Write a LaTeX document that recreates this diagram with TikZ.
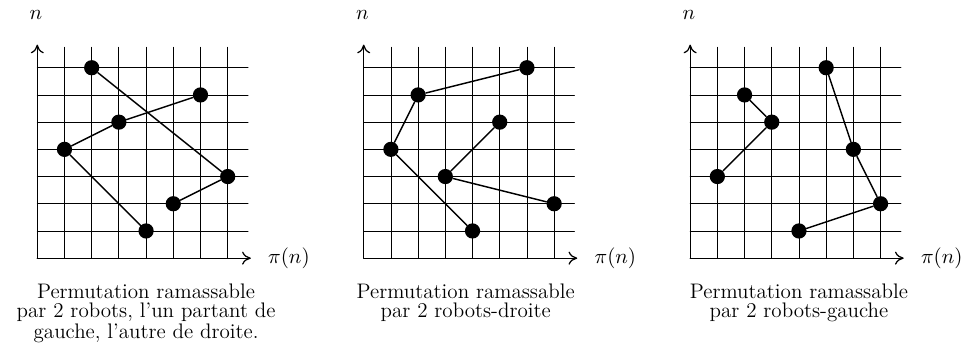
\documentclass[tikz,border=0pt]{standalone}
\usetikzlibrary{calc,arrows.meta}
\tikzset{
  grid length/.store in=\GridLen,
  panel gap/.store in=\PanelGap,
  grid length=7.75,
  panel gap=12,
  dot/.style={circle, fill=black, inner sep=0pt, minimum size=2.8mm},
  path line/.style={line width=0.75pt},
  grid line/.style={line width=0.4pt},
  axis line/.style={-{To[length=1.6mm,width=2.4mm]}, line width=0.65pt},
  axis label/.style={font=\fontsize{11}{13}\selectfont},
  caption/.style={align=center, inner sep=0pt, anchor=north,
    font=\fontsize{11}{9.7}\selectfont}
}

\begin{document}
\begin{tikzpicture}[x=0.5cm, y=0.5cm, line cap=round, line join=round]

  % Fix the frame to the proportions of the figure
  \useasboundingbox (-1.37,-3.27) rectangle (34.03,9.49);

  % Grid, axes and axis labels of the three panels
  \foreach \p in {0,1,2} {
    \begin{scope}[shift={(\p*\PanelGap,0)}]
      \foreach \k in {1,...,7} {
        \draw[grid line] (\k,0) -- (\k,\GridLen);
        \draw[grid line] (0,\k) -- (\GridLen,\k);
      }
      \coordinate (O\p) at (0,0);
      \coordinate (X\p) at (7.85,0);
      \coordinate (Y\p) at (0,7.85);
      \draw[axis line] (O\p) -- (X\p);
      \draw[axis line] (O\p) -- (Y\p);
      \node[axis label] (n\p) at (-0.05,8.93) {$n$};
      \node[axis label] (pi\p) at (9.25,0) {$\pi(n)$};
    \end{scope}
  }

  % Left panel: one robot from the left, the other from the right
  \begin{scope}
    \node[dot] (a1) at (1,4) {};
    \node[dot] (a2) at (2,7) {};
    \node[dot] (a3) at (3,5) {};
    \node[dot] (a4) at (4,1) {};
    \node[dot] (a5) at (5,2) {};
    \node[dot] (a6) at (6,6) {};
    \node[dot] (a7) at (7,3) {};
    \draw[path line] (a6) -- (a3) -- (a1) -- (a4);
    \draw[path line] (a2) -- (a7) -- (a5);
    \node[caption] (capa) at (4,-0.95)
      {Permutation ramassable\\par 2 robots, l'un partant de\\gauche, l'autre de droite.};
  \end{scope}

  % Middle panel: two robots from the right
  \begin{scope}[shift={(\PanelGap,0)}]
    \node[dot] (b1) at (1,4) {};
    \node[dot] (b2) at (2,6) {};
    \node[dot] (b3) at (3,3) {};
    \node[dot] (b4) at (4,1) {};
    \node[dot] (b5) at (5,5) {};
    \node[dot] (b6) at (6,7) {};
    \node[dot] (b7) at (7,2) {};
    \draw[path line] (b6) -- (b2) -- (b1) -- (b4);
    \draw[path line] (b5) -- (b3) -- (b7);
    \node[caption] (capb) at (3.75,-0.95)
      {Permutation ramassable\\par 2 robots-droite};
  \end{scope}

  % Right panel: two robots from the left
  \begin{scope}[shift={(2*\PanelGap,0)}]
    \node[dot] (c1) at (1,3) {};
    \node[dot] (c2) at (2,6) {};
    \node[dot] (c3) at (3,5) {};
    \node[dot] (c4) at (4,1) {};
    \node[dot] (c5) at (5,7) {};
    \node[dot] (c6) at (6,4) {};
    \node[dot] (c7) at (7,2) {};
    \draw[path line] (c2) -- (c3) -- (c1);
    \draw[path line] (c5) -- (c6) -- (c7) -- (c4);
    \node[caption] (capc) at (4,-0.95)
      {Permutation ramassable\\par 2 robots-gauche};
  \end{scope}

\end{tikzpicture}
\end{document}
